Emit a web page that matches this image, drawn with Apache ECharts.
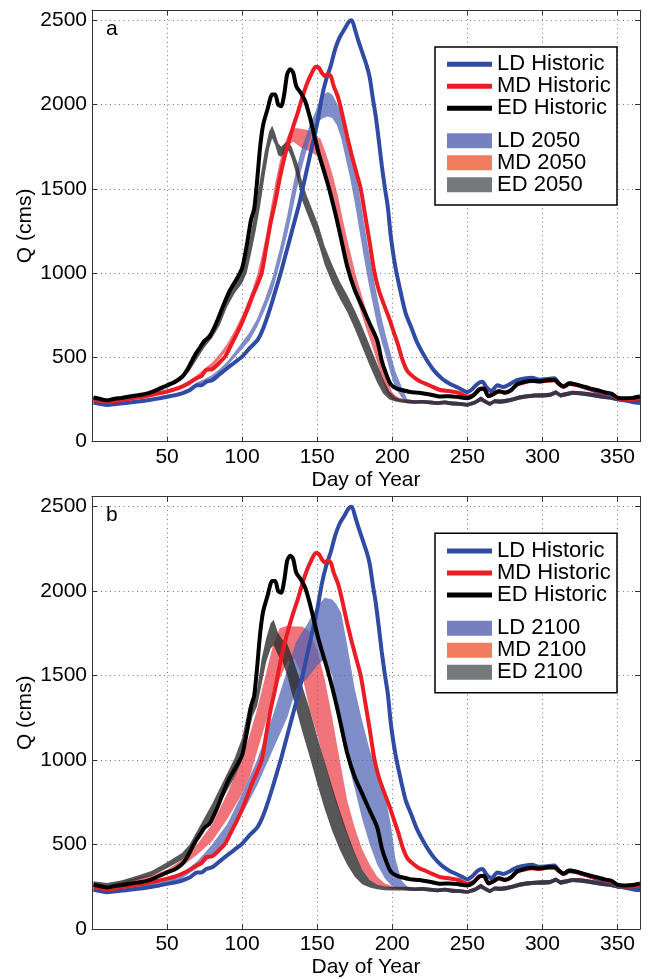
<!DOCTYPE html>
<html><head><meta charset="utf-8">
<script src="https://cdn.jsdelivr.net/npm/echarts@6/dist/echarts.min.js"></script>
<style>html,body{margin:0;padding:0;background:#fff}#c{width:648px;height:979px}</style>
</head><body><div id="c"></div>
<script>
// ---------- tick labels ----------
const xTickLabels = [50, 100, 150, 200, 250, 300, 350];
const yTickLabels = [0, 500, 1000, 1500, 2000, 2500];

// ---------- historic lines [day, Q] ----------
const edHistoric = [[1,262],[5,255],[10,245],[15,255],[20,260],[25,268],[30,275],[35,282],[40,295],[45,315],[50,335],[55,352],[60,385],[63,420],[66,470],[69,520],[72,560],[75,600],[78,620],[80,650],[84,730],[88,820],[92,900],[96,960],[100,1030],[103,1160],[106,1320],[108,1380],[110,1550],[112,1750],[114,1880],[117,1975],[120,2060],[122,2060],[124,2000],[126,1990],[128,2060],[130,2180],[132,2210],[134,2190],[136,2110],[139,2070],[142,2020],[145,1930],[148,1820],[151,1710],[154,1620],[157,1530],[160,1430],[163,1320],[166,1200],[170,1040],[175,900],[180,800],[185,700],[190,600],[193,480],[196,400],[199,340],[203,315],[207,305],[212,295],[218,290],[225,280],[232,268],[238,270],[244,265],[250,258],[254,275],[258,310],[261,315],[264,270],[267,280],[271,300],[275,290],[279,305],[283,340],[288,355],[293,362],[298,358],[303,365],[308,366],[311,345],[314,327],[318,345],[322,340],[327,328],[332,315],[337,305],[342,292],[346,285],[350,262],[355,258],[360,260],[365,270]];
const ldHistoric = [[1,232],[5,225],[10,218],[15,222],[20,228],[25,232],[30,238],[35,243],[40,250],[45,258],[50,267],[55,275],[60,287],[65,305],[70,335],[73,335],[76,355],[80,365],[85,400],[90,436],[95,470],[100,505],[105,555],[110,600],[113,650],[116,720],[120,830],[123,920],[126,1010],[129,1110],[132,1210],[135,1310],[138,1410],[141,1530],[144,1650],[147,1770],[150,1890],[153,2040],[156,2150],[159,2230],[162,2330],[165,2400],[168,2445],[171,2490],[173,2500],[175,2450],[177,2390],[180,2310],[183,2230],[185,2160],[187,2040],[189,1930],[191,1790],[193,1640],[195,1510],[197,1395],[199,1220],[202,1040],[206,870],[209,760],[213,670],[216,600],[220,530],[224,470],[228,420],[233,375],[238,345],[244,320],[250,295],[253,310],[257,345],[260,355],[263,320],[266,300],[270,335],[274,325],[278,340],[283,365],[288,375],[293,380],[298,368],[303,372],[308,376],[311,345],[314,328],[318,348],[322,340],[327,325],[332,310],[337,295],[342,282],[346,275],[350,255],[355,245],[360,235],[365,230]];
const mdHistoric = [[1,248],[5,243],[10,235],[15,240],[20,248],[25,255],[30,262],[35,268],[40,278],[45,288],[50,298],[55,310],[60,327],[65,350],[70,378],[73,390],[76,425],[80,430],[85,470],[89,510],[93,580],[97,650],[101,730],[104,800],[107,870],[110,930],[113,1000],[116,1150],[119,1300],[122,1420],[125,1560],[128,1680],[131,1780],[134,1870],[137,1950],[140,2040],[143,2120],[146,2180],[149,2225],[151,2220],[153,2190],[155,2170],[157,2180],[159,2170],[161,2110],[164,2040],[166,1970],[170,1810],[173,1700],[176,1600],[179,1500],[182,1340],[185,1180],[188,1010],[191,900],[195,800],[198,730],[201,650],[204,570],[207,480],[210,420],[214,385],[218,360],[222,345],[227,325],[232,307],[238,300],[244,290],[250,268],[254,278],[258,312],[261,315],[264,272],[267,282],[271,300],[275,292],[279,305],[283,338],[288,352],[293,360],[298,356],[303,362],[308,364],[311,343],[314,325],[318,342],[322,337],[327,325],[332,312],[337,300],[342,288],[346,280],[350,258],[355,252],[360,252],[365,258]];

// ---------- projected ranges [day, low, high] ----------
const bandTail = [[210,228,250],[215,225,246],[220,226,248],[225,222,244],[230,218,240],[235,222,244],[240,215,238],[245,213,236],[250,208,230],[255,220,245],[259,240,268],[262,225,250],[265,212,236],[268,228,252],[272,225,250],[276,230,255],[280,238,262],[285,250,275],[290,258,282],[295,262,286],[300,262,288],[305,265,290],[309,280,305],[312,262,288],[316,270,295],[320,278,302],[325,275,300],[330,270,295],[335,262,287],[340,255,280],[345,250,275],[350,240,265],[355,235,258],[360,232,255],[365,228,252]];

const ld2050 = [[1,225,240],[10,215,228],[20,222,236],[30,232,246],[40,245,258],[50,262,275],[60,285,298],[65,305,320],[70,335,352],[75,355,372],[80,375,395],[85,410,432],[90,450,475],[95,500,530],[100,550,590],[105,600,650],[110,680,730],[115,780,840],[120,890,970],[125,1050,1140],[130,1230,1340],[133,1350,1480],[136,1480,1610],[139,1600,1720],[142,1700,1800],[145,1790,1880],[148,1860,1940],[151,1900,2010],[154,1920,2060],[157,1930,2075],[160,1920,2060],[163,1880,2010],[166,1800,1950],[169,1680,1870],[172,1560,1760],[175,1420,1620],[178,1260,1480],[181,1100,1310],[184,950,1150],[187,820,1000],[190,690,860],[193,590,730],[196,500,620],[199,400,520],[202,320,420],[206,265,330]];
const md2050 = [[1,242,256],[10,232,246],[20,244,258],[30,256,270],[40,272,288],[50,292,308],[60,320,338],[65,345,365],[70,372,395],[75,410,435],[80,440,470],[85,490,520],[90,545,580],[95,620,660],[100,700,750],[105,780,850],[110,900,990],[113,1000,1100],[116,1120,1230],[119,1260,1380],[122,1410,1530],[125,1560,1660],[128,1680,1760],[131,1760,1830],[134,1780,1860],[137,1760,1860],[140,1740,1855],[143,1730,1850],[146,1720,1840],[149,1700,1810],[152,1700,1800],[155,1620,1730],[158,1520,1650],[161,1420,1560],[164,1300,1450],[167,1170,1320],[170,1060,1200],[173,960,1090],[176,860,980],[179,770,890],[182,690,800],[185,610,720],[188,530,640],[191,440,550],[194,350,450],[197,280,360],[200,250,290],[204,238,262]];
const ed2050 = [[1,248,268],[10,238,256],[20,250,268],[30,262,282],[40,282,302],[50,318,342],[60,368,395],[65,420,460],[70,490,535],[75,560,610],[80,615,665],[85,690,745],[90,800,865],[95,880,950],[100,940,1020],[103,1000,1100],[106,1120,1250],[109,1250,1390],[112,1400,1560],[115,1580,1720],[118,1740,1840],[120,1800,1875],[122,1760,1830],[124,1700,1770],[126,1690,1750],[129,1720,1775],[131,1725,1780],[133,1680,1750],[135,1620,1700],[137,1550,1650],[140,1430,1540],[143,1360,1460],[147,1270,1370],[151,1170,1280],[155,1050,1160],[160,940,1050],[165,850,950],[170,770,870],[175,670,780],[180,560,680],[185,450,570],[190,350,460],[194,285,370],[198,250,300],[202,238,265],[206,232,252]];

const ld2100 = [[1,225,238],[10,216,230],[20,224,238],[30,240,252],[40,255,270],[50,270,290],[60,300,330],[70,360,400],[80,430,500],[90,530,620],[100,680,800],[110,850,1000],[120,1050,1250],[126,1170,1420],[130,1250,1530],[136,1420,1700],[143,1480,1800],[150,1560,1910],[155,1600,1960],[160,1500,1950],[163,1300,1920],[166,1150,1870],[170,1000,1680],[175,830,1420],[180,650,1230],[185,500,1060],[190,380,930],[195,300,800],[199,260,620],[202,245,420],[206,238,290]];
const md2100 = [[1,250,265],[10,242,258],[20,265,280],[30,285,305],[40,300,320],[50,320,350],[60,370,410],[70,440,500],[80,520,620],[90,650,800],[100,800,1010],[105,900,1150],[110,1050,1300],[115,1200,1480],[120,1350,1660],[125,1480,1780],[130,1580,1795],[135,1600,1790],[140,1500,1790],[145,1300,1760],[150,1150,1650],[155,980,1480],[160,820,1250],[165,680,1000],[170,550,760],[175,440,600],[180,350,470],[185,290,380],[190,260,310],[195,248,270],[200,240,255],[205,235,250]];
const ed2100 = [[1,262,282],[10,255,272],[20,268,288],[30,290,315],[40,315,345],[50,360,395],[60,410,450],[65,450,500],[70,520,580],[75,590,660],[80,660,740],[85,740,830],[90,820,920],[95,900,1010],[100,1000,1130],[104,1150,1300],[107,1260,1380],[110,1320,1420],[113,1450,1600],[116,1580,1720],[119,1660,1810],[121,1680,1830],[124,1620,1750],[127,1580,1710],[130,1500,1690],[133,1400,1620],[136,1300,1540],[140,1170,1440],[145,1020,1300],[150,860,1140],[155,710,990],[160,580,840],[165,470,700],[170,380,570],[175,310,450],[180,265,350],[185,245,290],[190,235,262],[195,230,252],[200,228,248],[205,228,248]];

// ---------- styling ----------
const FONT = '"Liberation Sans", Arial, Helvetica, sans-serif';
const C = {
  ldLine: '#2f4ba3', mdLine: '#ec1c24', edLine: '#000000',
  ldBand: 'rgba(78,99,179,0.72)', mdBand: 'rgba(236,62,72,0.72)', edBand: 'rgba(40,40,40,0.78)',
  ldPatch: '#7680c0', mdPatch: '#f27c5e', edPatch: '#76797b'
};

function lineSeries(name, data, ax, color) {
  return { type: 'line', name, data, xAxisIndex: ax, yAxisIndex: ax, showSymbol: false, symbol: 'none',
    smooth: 0.25, lineStyle: { color, width: 4 }, itemStyle: { color }, z: 4, silent: true };
}
function bandSeries(name, rows, ax, color) {
  const full = rows.concat(bandTail);
  return {
    type: 'custom', name, xAxisIndex: ax, yAxisIndex: ax, data: full,
    encode: { x: 0, y: [1, 2] }, itemStyle: { color }, z: 2, silent: true,
    renderItem(params, api) {
      if (params.dataIndex !== 0) return null;
      const top = full.map(r => api.coord([r[0], r[2]]));
      const bot = full.map(r => api.coord([r[0], r[1]])).reverse();
      return { type: 'polygon', shape: { points: top.concat(bot) }, style: { fill: color, stroke: null } };
    }
  };
}

const gridTops = [10.2, 496.5], gridHeights = [431.5, 433.5];
const grids = gridTops.map((t, i) => ({ left: 92, right: 8, top: t, height: gridHeights[i], show: false }));

const axisCol = '#333';
const split = { show: true, lineStyle: { type: [1, 3.5], color: '#777', width: 1 } };
const xAxes = [], yAxes = [];
[0, 1].forEach(g => {
  xAxes.push({ gridIndex: g, type: 'value', min: 0, max: 365, interval: 50, position: 'bottom',
    axisLine: { show: true, onZero: false, lineStyle: { color: axisCol, width: 1 } },
    axisTick: { show: true, inside: true, length: 5, lineStyle: { color: axisCol } },
    axisLabel: { formatter: v => xTickLabels.includes(v) ? String(v) : '', fontSize: 21, color: '#000', fontFamily: FONT, margin: 5 },
    splitLine: split,
    name: 'Day of Year', nameLocation: 'middle', nameGap: 28,
    nameTextStyle: { fontSize: 21, color: '#000', fontFamily: FONT } });
  xAxes.push({ gridIndex: g, type: 'value', min: 0, max: 365, interval: 50, position: 'top',
    axisLine: { show: true, onZero: false, lineStyle: { color: axisCol, width: 1 } },
    axisTick: { show: true, inside: true, length: 5, lineStyle: { color: axisCol } },
    axisLabel: { show: false }, splitLine: { show: false } });
  yAxes.push({ gridIndex: g, type: 'value', min: 0, max: 2560, interval: 500, position: 'left',
    axisLine: { show: true, onZero: false, lineStyle: { color: axisCol, width: 1 } },
    axisTick: { show: true, inside: true, length: 5, lineStyle: { color: axisCol } },
    axisLabel: { formatter: v => yTickLabels.includes(v) ? String(v) : '', fontSize: 21, color: '#000', fontFamily: FONT, margin: 5 },
    splitLine: split,
    name: 'Q (cms)', nameLocation: 'middle', nameGap: 56, nameMoveOverlap: false,
    nameTextStyle: { fontSize: 21, color: '#000', fontFamily: FONT } });
  yAxes.push({ gridIndex: g, type: 'value', min: 0, max: 2560, interval: 500, position: 'right',
    axisLine: { show: true, onZero: false, lineStyle: { color: axisCol, width: 1 } },
    axisTick: { show: true, inside: true, length: 5, lineStyle: { color: axisCol } },
    axisLabel: { show: false }, splitLine: { show: false } });
});
const series = [
  lineSeries('LD Historic', ldHistoric, 0, C.ldLine),
  lineSeries('MD Historic', mdHistoric, 0, C.mdLine),
  lineSeries('ED Historic', edHistoric, 0, C.edLine),
  bandSeries('MD 2050', md2050, 0, C.mdBand),
  bandSeries('LD 2050', ld2050, 0, C.ldBand),
  bandSeries('ED 2050', ed2050, 0, C.edBand),
  lineSeries('LD Historic', ldHistoric, 2, C.ldLine),
  lineSeries('MD Historic', mdHistoric, 2, C.mdLine),
  lineSeries('ED Historic', edHistoric, 2, C.edLine),
  bandSeries('MD 2100', md2100, 2, C.mdBand),
  bandSeries('LD 2100', ld2100, 2, C.ldBand),
  bandSeries('ED 2100', ed2100, 2, C.edBand)
];

const legTxt = { fontSize: 22, lineHeight: 22, color: '#000', fontFamily: FONT };
function histLegend(top) {
  return { orient: 'vertical', left: 447, top, itemWidth: 45, itemHeight: 5, itemGap: 0, icon: 'rect',
    selectedMode: false, textStyle: legTxt, padding: 0, z: 6,
    data: [{ name: 'LD Historic', itemStyle: { color: C.ldLine } }, { name: 'MD Historic', itemStyle: { color: C.mdLine } }, { name: 'ED Historic', itemStyle: { color: C.edLine } }] };
}
function bandLegend(top, yr) {
  return { orient: 'vertical', left: 447, top, itemWidth: 45, itemHeight: 15, itemGap: 0, icon: 'rect',
    selectedMode: false, textStyle: legTxt, padding: 0, z: 6,
    data: [{ name: 'LD ' + yr, itemStyle: { color: C.ldPatch } }, { name: 'MD ' + yr, itemStyle: { color: C.mdPatch } }, { name: 'ED ' + yr, itemStyle: { color: C.edPatch } }] };
}

const option = {
  backgroundColor: '#fff',
  animation: false,
  grid: grids, xAxis: xAxes, yAxis: yAxes, series,
  legend: [histLegend(53.3), bandLegend(129.7, '2050'), histLegend(540), bandLegend(617.3, '2100')],
  graphic: [
    { type: 'rect', shape: { x: 435, y: 47, width: 182, height: 158 }, style: { fill: '#fff', stroke: '#000', lineWidth: 1.5 }, z: 5 },
    { type: 'rect', shape: { x: 435, y: 533.3, width: 182, height: 159.4 }, style: { fill: '#fff', stroke: '#000', lineWidth: 1.5 }, z: 5 },
    { type: 'text', left: 106, top: 19, style: { text: 'a', fontSize: 21, fill: '#000', font: '21px ' + FONT }, z: 6 },
    { type: 'text', left: 106, top: 505, style: { text: 'b', fontSize: 21, fill: '#000', font: '21px ' + FONT }, z: 6 }
  ]
};
const chart = echarts.init(document.getElementById('c'));
chart.setOption(option);
</script>
</body></html>
